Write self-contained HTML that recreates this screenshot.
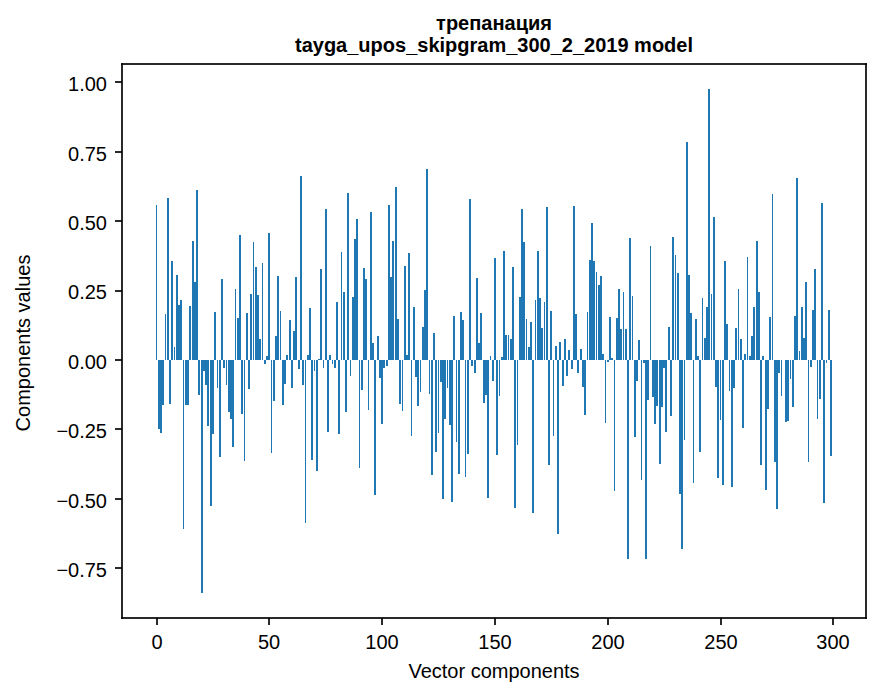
<!DOCTYPE html>
<html><head><meta charset="utf-8"><title>chart</title>
<style>html,body{margin:0;padding:0;background:#fff;font-family:"Liberation Sans",sans-serif}svg{display:block}</style>
</head><body>
<svg width="880" height="696" viewBox="0 0 880 696">
<rect x="0" y="0" width="880" height="696" fill="#ffffff"/>
<g fill="#1f77b4" shape-rendering="crispEdges"><rect x="156" y="205" width="1" height="155"/><rect x="158" y="360" width="2" height="69"/><rect x="160" y="360" width="2" height="73"/><rect x="162" y="360" width="2" height="45"/><rect x="165" y="314" width="1" height="46"/><rect x="167" y="198" width="2" height="162"/><rect x="169" y="360" width="2" height="44"/><rect x="171" y="261" width="2" height="99"/><rect x="174" y="347" width="1" height="13"/><rect x="176" y="275" width="2" height="85"/><rect x="178" y="305" width="2" height="55"/><rect x="180" y="300" width="2" height="60"/><rect x="183" y="360" width="1" height="169"/><rect x="185" y="360" width="2" height="45"/><rect x="187" y="360" width="2" height="45"/><rect x="189" y="306" width="2" height="54"/><rect x="192" y="241" width="2" height="119"/><rect x="194" y="282" width="2" height="78"/><rect x="196" y="190" width="2" height="170"/><rect x="198" y="360" width="2" height="35"/><rect x="201" y="360" width="2" height="233"/><rect x="203" y="360" width="2" height="11"/><rect x="205" y="360" width="2" height="25"/><rect x="207" y="360" width="2" height="66"/><rect x="210" y="360" width="2" height="146"/><rect x="212" y="360" width="2" height="74"/><rect x="214" y="312" width="2" height="48"/><rect x="217" y="360" width="1" height="28"/><rect x="219" y="360" width="2" height="97"/><rect x="221" y="279" width="2" height="81"/><rect x="223" y="360" width="2" height="8"/><rect x="226" y="360" width="1" height="25"/><rect x="228" y="360" width="2" height="52"/><rect x="230" y="360" width="2" height="59"/><rect x="232" y="360" width="2" height="87"/><rect x="235" y="289" width="1" height="71"/><rect x="237" y="318" width="2" height="42"/><rect x="239" y="235" width="2" height="125"/><rect x="241" y="360" width="2" height="54"/><rect x="244" y="360" width="1" height="101"/><rect x="246" y="313" width="2" height="47"/><rect x="248" y="360" width="2" height="29"/><rect x="250" y="294" width="2" height="66"/><rect x="253" y="242" width="1" height="118"/><rect x="255" y="267" width="2" height="93"/><rect x="257" y="295" width="2" height="65"/><rect x="259" y="339" width="2" height="21"/><rect x="262" y="263" width="1" height="97"/><rect x="264" y="360" width="2" height="4"/><rect x="266" y="356" width="2" height="4"/><rect x="268" y="233" width="2" height="127"/><rect x="271" y="360" width="1" height="93"/><rect x="273" y="360" width="2" height="41"/><rect x="275" y="336" width="2" height="24"/><rect x="277" y="276" width="2" height="84"/><rect x="280" y="311" width="1" height="49"/><rect x="282" y="360" width="2" height="45"/><rect x="284" y="360" width="2" height="24"/><rect x="286" y="355" width="2" height="5"/><rect x="289" y="320" width="2" height="40"/><rect x="291" y="360" width="2" height="28"/><rect x="293" y="331" width="2" height="29"/><rect x="295" y="277" width="2" height="83"/><rect x="298" y="360" width="2" height="9"/><rect x="300" y="176" width="2" height="184"/><rect x="302" y="360" width="2" height="25"/><rect x="305" y="360" width="1" height="163"/><rect x="307" y="355" width="2" height="5"/><rect x="309" y="308" width="2" height="52"/><rect x="311" y="360" width="2" height="100"/><rect x="314" y="360" width="1" height="11"/><rect x="316" y="360" width="2" height="111"/><rect x="318" y="359" width="2" height="1"/><rect x="320" y="269" width="2" height="91"/><rect x="323" y="360" width="1" height="8"/><rect x="325" y="209" width="2" height="151"/><rect x="327" y="360" width="2" height="72"/><rect x="329" y="355" width="2" height="5"/><rect x="332" y="360" width="1" height="4"/><rect x="334" y="360" width="2" height="8"/><rect x="336" y="302" width="2" height="58"/><rect x="338" y="360" width="2" height="74"/><rect x="341" y="252" width="1" height="108"/><rect x="343" y="292" width="2" height="68"/><rect x="345" y="360" width="2" height="52"/><rect x="347" y="193" width="2" height="167"/><rect x="350" y="360" width="1" height="16"/><rect x="352" y="297" width="2" height="63"/><rect x="354" y="239" width="2" height="121"/><rect x="356" y="219" width="2" height="141"/><rect x="359" y="360" width="1" height="108"/><rect x="361" y="360" width="2" height="30"/><rect x="363" y="268" width="2" height="92"/><rect x="365" y="279" width="2" height="81"/><rect x="368" y="360" width="1" height="50"/><rect x="370" y="212" width="2" height="148"/><rect x="372" y="343" width="2" height="17"/><rect x="374" y="360" width="2" height="135"/><rect x="377" y="336" width="2" height="24"/><rect x="379" y="360" width="2" height="18"/><rect x="381" y="360" width="2" height="64"/><rect x="383" y="360" width="2" height="8"/><rect x="386" y="360" width="2" height="6"/><rect x="388" y="205" width="2" height="155"/><rect x="390" y="277" width="2" height="83"/><rect x="392" y="241" width="2" height="119"/><rect x="395" y="187" width="2" height="173"/><rect x="397" y="319" width="2" height="41"/><rect x="399" y="360" width="2" height="44"/><rect x="402" y="360" width="1" height="51"/><rect x="404" y="266" width="2" height="94"/><rect x="406" y="355" width="2" height="5"/><rect x="408" y="253" width="2" height="107"/><rect x="411" y="360" width="1" height="76"/><rect x="413" y="307" width="2" height="53"/><rect x="415" y="360" width="2" height="17"/><rect x="417" y="360" width="2" height="46"/><rect x="420" y="360" width="1" height="32"/><rect x="422" y="327" width="2" height="33"/><rect x="424" y="290" width="2" height="70"/><rect x="426" y="169" width="2" height="191"/><rect x="429" y="360" width="1" height="34"/><rect x="431" y="360" width="2" height="115"/><rect x="433" y="333" width="2" height="27"/><rect x="435" y="360" width="2" height="92"/><rect x="438" y="360" width="1" height="73"/><rect x="440" y="360" width="2" height="22"/><rect x="442" y="360" width="2" height="139"/><rect x="444" y="360" width="2" height="59"/><rect x="447" y="360" width="1" height="28"/><rect x="449" y="360" width="2" height="65"/><rect x="451" y="360" width="2" height="142"/><rect x="453" y="316" width="2" height="44"/><rect x="456" y="360" width="1" height="82"/><rect x="458" y="360" width="2" height="114"/><rect x="460" y="312" width="2" height="48"/><rect x="462" y="320" width="2" height="40"/><rect x="465" y="360" width="1" height="117"/><rect x="467" y="360" width="2" height="94"/><rect x="469" y="199" width="2" height="161"/><rect x="471" y="360" width="2" height="6"/><rect x="474" y="360" width="2" height="13"/><rect x="476" y="278" width="2" height="82"/><rect x="478" y="343" width="2" height="17"/><rect x="480" y="313" width="2" height="47"/><rect x="483" y="360" width="2" height="43"/><rect x="485" y="360" width="2" height="35"/><rect x="487" y="360" width="2" height="138"/><rect x="490" y="356" width="1" height="4"/><rect x="492" y="360" width="2" height="21"/><rect x="494" y="258" width="2" height="102"/><rect x="496" y="360" width="2" height="95"/><rect x="499" y="360" width="1" height="36"/><rect x="501" y="357" width="2" height="3"/><rect x="503" y="251" width="2" height="109"/><rect x="505" y="335" width="2" height="25"/><rect x="508" y="335" width="1" height="25"/><rect x="510" y="339" width="2" height="21"/><rect x="512" y="267" width="2" height="93"/><rect x="514" y="360" width="2" height="148"/><rect x="517" y="360" width="1" height="85"/><rect x="519" y="297" width="2" height="63"/><rect x="521" y="209" width="2" height="151"/><rect x="523" y="242" width="2" height="118"/><rect x="526" y="319" width="1" height="41"/><rect x="528" y="347" width="2" height="13"/><rect x="530" y="322" width="2" height="38"/><rect x="532" y="360" width="2" height="153"/><rect x="535" y="300" width="1" height="60"/><rect x="537" y="251" width="2" height="109"/><rect x="539" y="298" width="2" height="62"/><rect x="541" y="328" width="2" height="32"/><rect x="544" y="302" width="1" height="58"/><rect x="546" y="207" width="2" height="153"/><rect x="548" y="360" width="2" height="105"/><rect x="550" y="311" width="2" height="49"/><rect x="553" y="360" width="1" height="76"/><rect x="555" y="346" width="2" height="14"/><rect x="557" y="360" width="2" height="174"/><rect x="559" y="342" width="2" height="18"/><rect x="562" y="360" width="2" height="26"/><rect x="564" y="339" width="2" height="21"/><rect x="566" y="360" width="2" height="16"/><rect x="568" y="350" width="2" height="10"/><rect x="571" y="360" width="2" height="9"/><rect x="573" y="206" width="2" height="154"/><rect x="575" y="314" width="2" height="46"/><rect x="577" y="360" width="2" height="13"/><rect x="580" y="349" width="2" height="11"/><rect x="582" y="360" width="2" height="27"/><rect x="584" y="360" width="2" height="55"/><rect x="587" y="312" width="1" height="48"/><rect x="589" y="260" width="2" height="100"/><rect x="591" y="223" width="2" height="137"/><rect x="593" y="261" width="2" height="99"/><rect x="596" y="272" width="1" height="88"/><rect x="598" y="285" width="2" height="75"/><rect x="600" y="276" width="2" height="84"/><rect x="602" y="354" width="2" height="6"/><rect x="605" y="360" width="1" height="63"/><rect x="607" y="360" width="2" height="2"/><rect x="609" y="317" width="2" height="43"/><rect x="611" y="358" width="2" height="2"/><rect x="614" y="360" width="1" height="131"/><rect x="616" y="318" width="2" height="42"/><rect x="618" y="289" width="2" height="71"/><rect x="620" y="329" width="2" height="31"/><rect x="623" y="292" width="1" height="68"/><rect x="625" y="329" width="2" height="31"/><rect x="627" y="360" width="2" height="199"/><rect x="629" y="238" width="2" height="122"/><rect x="632" y="296" width="1" height="64"/><rect x="634" y="360" width="2" height="77"/><rect x="636" y="360" width="2" height="21"/><rect x="638" y="340" width="2" height="20"/><rect x="641" y="360" width="1" height="120"/><rect x="643" y="360" width="2" height="3"/><rect x="645" y="360" width="2" height="199"/><rect x="647" y="360" width="2" height="40"/><rect x="650" y="246" width="1" height="114"/><rect x="652" y="360" width="2" height="37"/><rect x="654" y="360" width="2" height="64"/><rect x="656" y="360" width="2" height="46"/><rect x="659" y="360" width="2" height="104"/><rect x="661" y="360" width="2" height="47"/><rect x="663" y="360" width="2" height="8"/><rect x="665" y="360" width="2" height="72"/><rect x="668" y="327" width="2" height="33"/><rect x="670" y="360" width="2" height="56"/><rect x="672" y="237" width="2" height="123"/><rect x="675" y="255" width="1" height="105"/><rect x="677" y="273" width="2" height="87"/><rect x="679" y="360" width="2" height="134"/><rect x="681" y="360" width="2" height="189"/><rect x="684" y="360" width="1" height="80"/><rect x="686" y="142" width="2" height="218"/><rect x="688" y="275" width="2" height="85"/><rect x="690" y="313" width="2" height="47"/><rect x="693" y="360" width="1" height="123"/><rect x="695" y="319" width="2" height="41"/><rect x="697" y="356" width="2" height="4"/><rect x="699" y="360" width="2" height="92"/><rect x="702" y="298" width="1" height="62"/><rect x="704" y="338" width="2" height="22"/><rect x="706" y="307" width="2" height="53"/><rect x="708" y="89" width="2" height="271"/><rect x="711" y="294" width="1" height="66"/><rect x="713" y="217" width="2" height="143"/><rect x="715" y="360" width="2" height="27"/><rect x="717" y="360" width="2" height="118"/><rect x="720" y="360" width="1" height="60"/><rect x="722" y="360" width="2" height="125"/><rect x="724" y="261" width="2" height="99"/><rect x="726" y="324" width="2" height="36"/><rect x="729" y="360" width="1" height="31"/><rect x="731" y="360" width="2" height="127"/><rect x="733" y="360" width="2" height="28"/><rect x="735" y="328" width="2" height="32"/><rect x="738" y="289" width="1" height="71"/><rect x="740" y="339" width="2" height="21"/><rect x="742" y="360" width="2" height="68"/><rect x="744" y="354" width="2" height="6"/><rect x="747" y="257" width="1" height="103"/><rect x="749" y="356" width="2" height="4"/><rect x="751" y="336" width="2" height="24"/><rect x="753" y="307" width="2" height="53"/><rect x="756" y="241" width="2" height="119"/><rect x="758" y="292" width="2" height="68"/><rect x="760" y="360" width="2" height="105"/><rect x="762" y="356" width="2" height="4"/><rect x="765" y="360" width="2" height="130"/><rect x="767" y="360" width="2" height="49"/><rect x="769" y="317" width="2" height="43"/><rect x="772" y="194" width="1" height="166"/><rect x="774" y="360" width="2" height="102"/><rect x="776" y="360" width="2" height="149"/><rect x="778" y="360" width="2" height="13"/><rect x="781" y="360" width="1" height="36"/><rect x="785" y="360" width="2" height="62"/><rect x="787" y="360" width="2" height="61"/><rect x="790" y="360" width="1" height="19"/><rect x="792" y="360" width="2" height="47"/><rect x="794" y="316" width="2" height="44"/><rect x="796" y="178" width="2" height="182"/><rect x="799" y="351" width="1" height="9"/><rect x="801" y="307" width="2" height="53"/><rect x="803" y="338" width="2" height="22"/><rect x="805" y="282" width="2" height="78"/><rect x="808" y="360" width="1" height="102"/><rect x="810" y="360" width="2" height="7"/><rect x="812" y="310" width="2" height="50"/><rect x="814" y="269" width="2" height="91"/><rect x="817" y="360" width="1" height="59"/><rect x="819" y="360" width="2" height="39"/><rect x="821" y="203" width="2" height="157"/><rect x="823" y="360" width="2" height="143"/><rect x="826" y="360" width="1" height="3"/><rect x="828" y="310" width="2" height="50"/><rect x="830" y="360" width="2" height="96"/></g>
<g fill="#000" fill-opacity="0.835" shape-rendering="crispEdges"><rect x="121" y="63" width="746" height="2"/><rect x="121" y="617" width="746" height="2"/><rect x="121" y="65" width="2" height="552"/><rect x="865" y="65" width="2" height="552"/><rect x="115" y="81" width="7" height="2"/><rect x="115" y="151" width="7" height="2"/><rect x="115" y="220" width="7" height="2"/><rect x="115" y="290" width="7" height="2"/><rect x="115" y="359" width="7" height="2"/><rect x="115" y="428" width="7" height="2"/><rect x="115" y="498" width="7" height="2"/><rect x="115" y="567" width="7" height="2"/><rect x="156" y="618" width="2" height="7"/><rect x="268" y="618" width="2" height="7"/><rect x="381" y="618" width="2" height="7"/><rect x="494" y="618" width="2" height="7"/><rect x="607" y="618" width="2" height="7"/><rect x="720" y="618" width="2" height="7"/><rect x="832" y="618" width="2" height="7"/></g>
<g shape-rendering="crispEdges"><rect x="121" y="63" width="1" height="1" fill="rgb(23,23,23)"/><rect x="122" y="63" width="1" height="1" fill="rgb(12,12,12)"/><rect x="121" y="64" width="1" height="1" fill="rgb(12,12,12)"/><rect x="122" y="64" width="1" height="1" fill="rgb(7,7,7)"/><rect x="865" y="63" width="1" height="1" fill="rgb(12,12,12)"/><rect x="866" y="63" width="1" height="1" fill="rgb(23,23,23)"/><rect x="865" y="64" width="1" height="1" fill="rgb(7,7,7)"/><rect x="866" y="64" width="1" height="1" fill="rgb(12,12,12)"/><rect x="121" y="617" width="1" height="1" fill="rgb(12,12,12)"/><rect x="122" y="617" width="1" height="1" fill="rgb(7,7,7)"/><rect x="121" y="618" width="1" height="1" fill="rgb(23,23,23)"/><rect x="122" y="618" width="1" height="1" fill="rgb(12,12,12)"/><rect x="865" y="617" width="1" height="1" fill="rgb(7,7,7)"/><rect x="866" y="617" width="1" height="1" fill="rgb(12,12,12)"/><rect x="865" y="618" width="1" height="1" fill="rgb(12,12,12)"/><rect x="866" y="618" width="1" height="1" fill="rgb(23,23,23)"/></g>
<g fill="#000" font-family="&quot;Liberation Sans&quot;, sans-serif" font-size="20">
<text x="157" y="649" text-anchor="middle">0</text>
<text x="269" y="649" text-anchor="middle">50</text>
<text x="382" y="649" text-anchor="middle">100</text>
<text x="495" y="649" text-anchor="middle">150</text>
<text x="608" y="649" text-anchor="middle">200</text>
<text x="721" y="649" text-anchor="middle">250</text>
<text x="833" y="649" text-anchor="middle">300</text>
<text x="494" y="678" text-anchor="middle">Vector components</text>
<text x="107" y="577" text-anchor="end">−0.75</text>
<text x="107" y="508" text-anchor="end">−0.50</text>
<text x="107" y="438" text-anchor="end">−0.25</text>
<text x="107" y="369" text-anchor="end">0.00</text>
<text x="107" y="299" text-anchor="end">0.25</text>
<text x="107" y="230" text-anchor="end">0.50</text>
<text x="107" y="161" text-anchor="end">0.75</text>
<text x="107" y="91" text-anchor="end">1.00</text>
<text transform="translate(30 343) rotate(-90)" text-anchor="middle">Components values</text>
<text x="494" y="30" text-anchor="middle" font-weight="bold">трепанация</text>
<text x="494" y="52" text-anchor="middle" font-weight="bold">tayga_upos_skipgram_300_2_2019 model</text>
</g>
</svg>
</body></html>
